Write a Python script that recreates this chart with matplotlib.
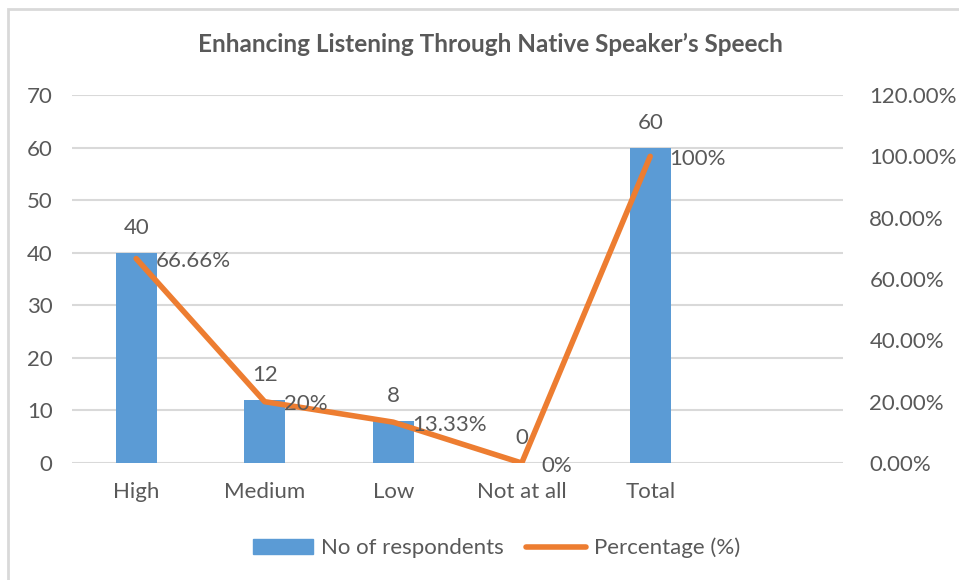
import matplotlib.pyplot as plt
from matplotlib.patches import Rectangle
from matplotlib.lines import Line2D
from matplotlib.ticker import FuncFormatter

plt.rcParams['font.family'] = ['Lato', 'DejaVu Sans']

categories = ["High", "Medium", "Low", "Not at all", "Total", ""]
respondents = [40, 12, 8, 0, 60]
percentage = [0.6666, 0.20, 0.1333, 0.0, 1.0]
pct_labels = ["66.66%", "20%", "13.33%", "0%", "100%"]

bar_color = "#5B9BD5"
line_color = "#ED7D31"
text_color = "#595959"
grid_color = "#D9D9D9"
fs = 16

fig = plt.figure(figsize=(9.59, 5.80), dpi=100)
ax = fig.add_axes([0.075, 0.2017, 0.804, 0.6345])
ax2 = ax.twinx()

xs = list(range(len(respondents)))
ax.bar(xs, respondents, width=0.32, color=bar_color, zorder=2,
       label="No of respondents")
ax.set_xlim(-0.5, len(categories) - 0.5)
ax.set_ylim(0, 70)
ax.set_yticks(range(0, 71, 10))
ax.set_xticks(range(len(categories)))
ax.set_xticklabels(categories)
ax.grid(axis='y', color=grid_color, linewidth=1.5, zorder=0)
ax.set_axisbelow(True)

ax2.plot(xs, percentage, color=line_color, linewidth=4, solid_capstyle='round',
         zorder=3, label="Percentage (%)")
ax2.set_ylim(0, 1.2)
ax2.set_yticks([0, 0.2, 0.4, 0.6, 0.8, 1.0, 1.2])
ax2.yaxis.set_major_formatter(FuncFormatter(lambda v, p: f"{v * 100:.2f}%"))

for a in (ax, ax2):
    for s in a.spines.values():
        s.set_visible(False)
    a.tick_params(length=0, labelsize=fs, labelcolor=text_color)
ax.tick_params(axis='y', pad=14)
ax.tick_params(axis='x', pad=14)
ax2.tick_params(axis='y', pad=19)

for x, v in zip(xs, respondents):
    ax.annotate(str(v), (x, v), xytext=(0, 18), textcoords='offset points',
                ha='center', va='center', fontsize=fs, color=text_color)
for x, v, lab in zip(xs, percentage, pct_labels):
    ax2.annotate(lab, (x, v), xytext=(14, -2), textcoords='offset points',
                 ha='left', va='center', fontsize=fs, color=text_color, zorder=4)

fig.suptitle("Enhancing Listening Through Native Speaker\u2019s Speech",
             x=0.511, y=0.943, fontsize=17.5, fontweight='bold', color=text_color)

handles = [Rectangle((0, 0), 1, 1, color=bar_color),
           Line2D([0], [0], color=line_color, linewidth=4, solid_capstyle='round')]
fig.legend(handles, ["No of respondents", "Percentage (%)"], loc='center',
           bbox_to_anchor=(0.518, 0.055), ncol=2, frameon=False, fontsize=fs,
           labelcolor=text_color, handlelength=2.7, handletextpad=0.35,
           columnspacing=1.0)

fig.patches.append(Rectangle((8 / 959, -0.1), 1.1, 1 - 9 / 580 + 0.1,
                             transform=fig.transFigure, fill=False,
                             edgecolor=grid_color, linewidth=2, zorder=0))

fig.savefig("out.png", dpi=100)
